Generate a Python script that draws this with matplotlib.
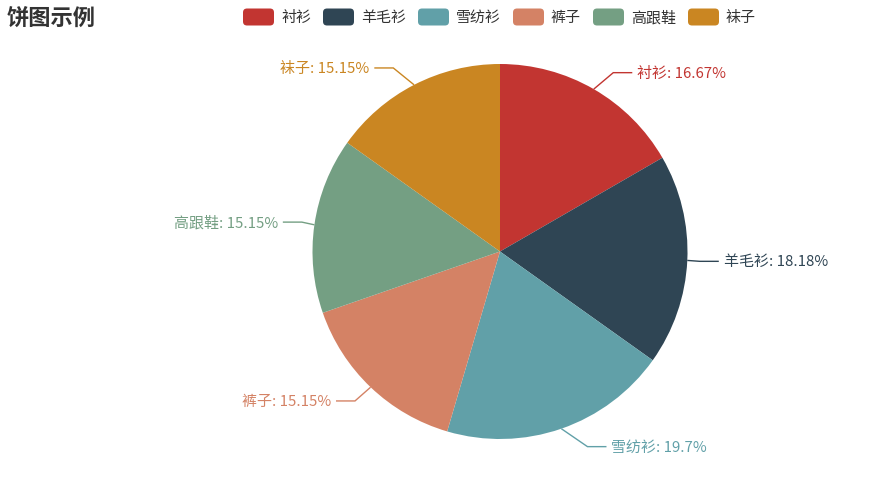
import matplotlib
matplotlib.use("Agg")
import matplotlib.pyplot as plt
from matplotlib.patches import FancyBboxPatch
import numpy as np

plt.rcParams['font.family'] = ['Noto Sans CJK SC', 'DejaVu Sans']

title = "饼图示例"
categories = ["衬衫", "羊毛衫", "雪纺衫", "裤子", "高跟鞋", "袜子"]
values = [11, 12, 13, 10, 10, 10]
colors = ["#c23531", "#2f4554", "#61a0a8", "#d48265", "#749f83", "#ca8622"]

W, H = 892, 485
fig = plt.figure(figsize=(W / 100, H / 100), dpi=100)
ax = fig.add_axes([0, 0, 1, 1])

cx, cy, r = 500, H - 252.5, 187.5
wedges, _ = ax.pie(values, colors=colors, startangle=90, counterclock=False,
                   center=(cx, cy), radius=r, frame=True,
                   wedgeprops=dict(linewidth=0, edgecolor='none'))
ax.set_xlim(0, W)
ax.set_ylim(0, H)
ax.set_aspect('equal')
ax.axis('off')

# label lines in the echarts manner: elbow y from radial length, x on an ellipse
len1, len2, gap = 19, 19, 5
rA, rB = 200, 217
total = sum(values)
for w, name, v, col in zip(wedges, categories, values, colors):
    mid = np.deg2rad((w.theta1 + w.theta2) / 2)
    dx, dy = np.cos(mid), np.sin(mid)
    side = 1 if dx >= 0 else -1
    x1, y1 = cx + r * dx, cy + r * dy
    ey = (r + len1) * dy
    ex = rA * np.sqrt(max(0.0, 1 - (ey / rB) ** 2))
    x2, y2 = cx + side * ex, cy + ey
    x3 = x2 + side * len2
    ax.plot([x1, x2, x3], [y1, y2, y2], color=col, lw=1.0,
            solid_joinstyle='miter', solid_capstyle='butt')
    pct = round(v / total * 100, 2)
    ax.text(x3 + side * gap, y2, f"{name}: {pct:g}%", color=col, fontsize=10.8,
            ha='left' if side > 0 else 'right', va='center')

# title
ax.text(7, H - 18, title, fontsize=16, fontweight='bold', color='#333333',
        ha='left', va='center')

# legend
fig.canvas.draw()
renderer = fig.canvas.get_renderer()
x = 243
ly = H - 18
for name, col in zip(categories, colors):
    box = FancyBboxPatch((x, ly - 8.5), 31, 17,
                         boxstyle="round,pad=0,rounding_size=4",
                         facecolor=col, edgecolor='none')
    ax.add_patch(box)
    t = ax.text(x + 31 + 7, ly, name, fontsize=10.8, color='#333333',
                ha='left', va='center')
    bb = t.get_window_extent(renderer=renderer)
    x = x + 31 + 7 + bb.width + 12

fig.savefig("out.png", dpi=100)
